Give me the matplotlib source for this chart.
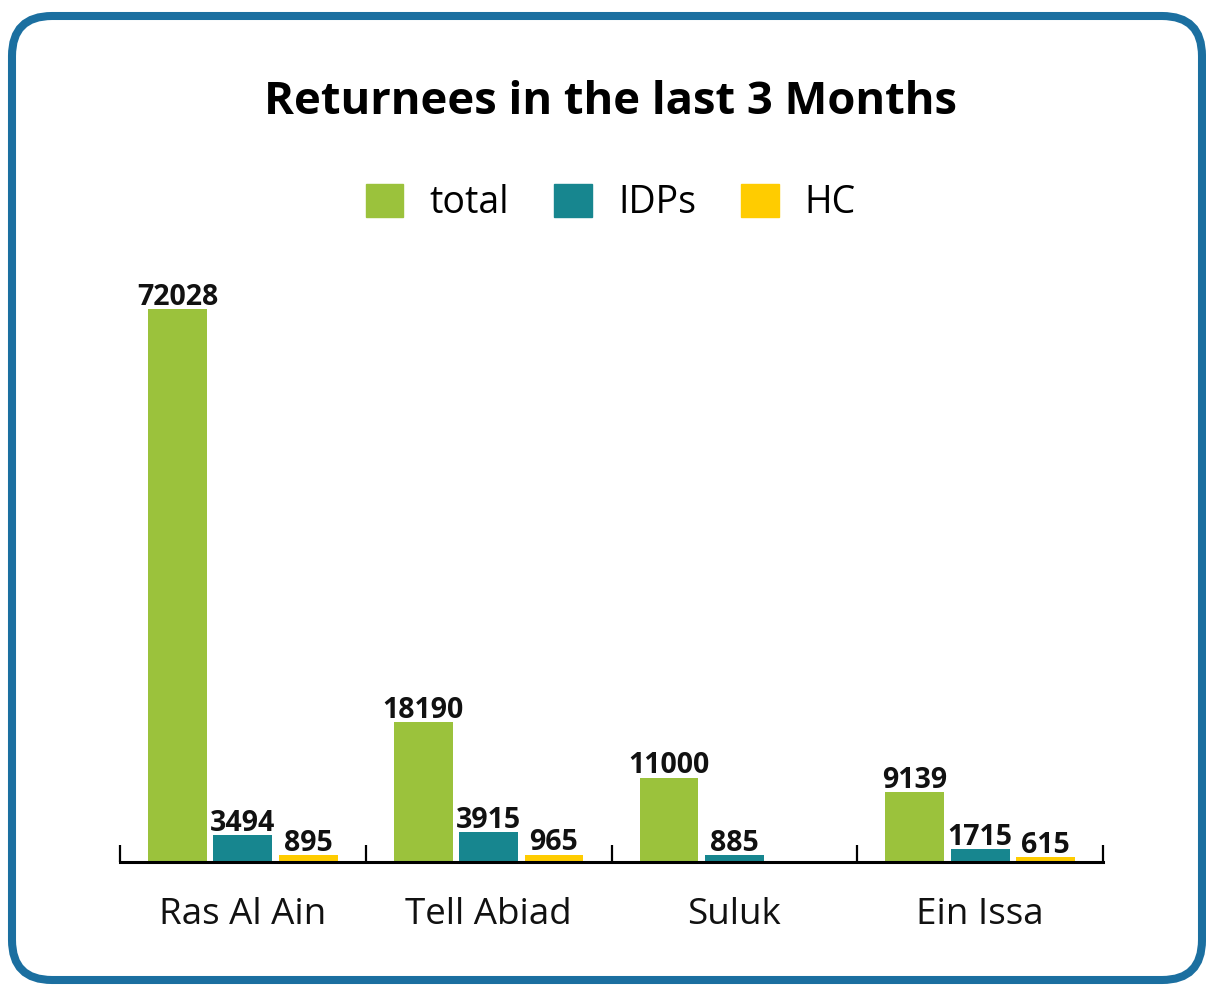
import numpy as np
import matplotlib
matplotlib.use("Agg")
import matplotlib.pyplot as plt
from matplotlib.patches import FancyBboxPatch, Patch

# data
regions = ["Ras Al Ain", "Tell Abiad", "Suluk", "Ein Issa"]
total = [72028, 18190, 11000, 9139]
idps = [3494, 3915, 885, 1715]
hc = [895, 965, np.nan, 615]  # Suluk has no HC value

series = [("total", total, "#9BC23C"),
          ("IDPs", idps, "#17868F"),
          ("HC", hc, "#FFCC00")]

plt.rcParams["font.family"] = ["Open Sans", "DejaVu Sans"]

W, H = 1206, 985
fig = plt.figure(figsize=(W / 100, H / 100), dpi=100)

# rounded frame around the whole chart, coordinates in inches
# (kept inside the canvas, otherwise agg clipping bends the corners)
frame = FancyBboxPatch((0.12, 0.05), 11.90, 9.64,
                       boxstyle="round,pad=0,rounding_size=0.4",
                       transform=fig.dpi_scale_trans, fill=False,
                       edgecolor="#1B6FA0", linewidth=5.8)
fig.patches.append(frame)

ax = fig.add_axes([120 / W, (H - 862) / H, 983 / W, (862 - 280) / H])

x = np.arange(len(regions))
step = 0.266
width = 0.24
for i, (name, vals, color) in enumerate(series):
    vals = np.array(vals, dtype=float)
    pos = x + (i - 1) * step
    ok = ~np.isnan(vals)
    ax.bar(pos[ok], vals[ok], width=width, color=color, label=name)
    for p, v in zip(pos[ok], vals[ok]):
        ax.annotate(f"{int(v)}", (p, v), xytext=(0, -2), textcoords="offset points",
                    ha="center", va="bottom", fontsize=20.5, fontweight="bold",
                    color="#111111")

ax.set_xlim(-0.5, len(regions) - 0.5)
ax.set_ylim(0, 75800)

for s in ["left", "right", "top"]:
    ax.spines[s].set_visible(False)
ax.spines["bottom"].set_linewidth(2.2)
ax.set_yticks([])

ax.set_xticks(x)
ax.set_xticklabels(regions, fontsize=26.5, color="#111111")
ax.tick_params(axis="x", which="major", length=0, pad=25)
ax.set_xticks(np.arange(-0.5, len(regions)), minor=True)
ax.tick_params(axis="x", which="minor", direction="in", length=12, width=1.6)

fig.text(611 / W, 1 - 103 / H, "Returnees in the last 3 Months",
         ha="center", va="center", fontsize=32.7, fontweight="bold")

handles = [Patch(color=c, label=n) for n, _, c in series]
fig.legend(handles=handles, loc="center", bbox_to_anchor=(611 / W, 1 - 203 / H),
           ncol=3, frameon=False, fontsize=27, handlelength=1.0, handleheight=1.0,
           handletextpad=0.7, columnspacing=1.2)

fig.savefig("out.png", dpi=100)
